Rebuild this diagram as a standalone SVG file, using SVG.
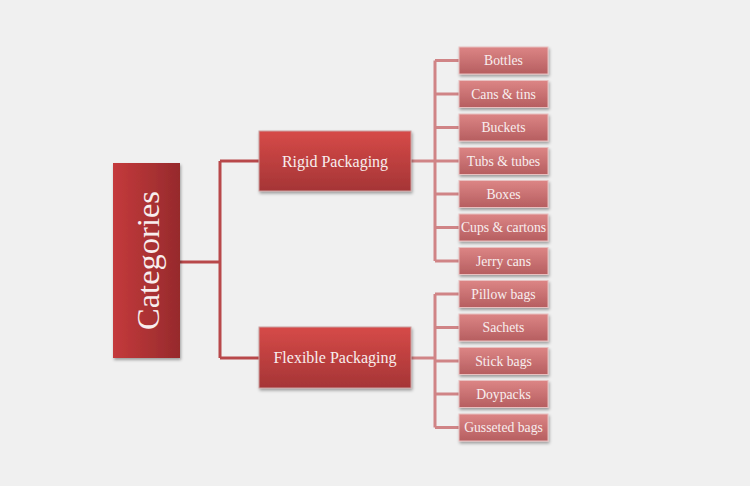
<svg xmlns="http://www.w3.org/2000/svg" width="750" height="486" viewBox="0 0 750 486">
<defs>
<linearGradient id="gCat" x1="0" y1="0" x2="1" y2="0"><stop offset="0" stop-color="#c43a3c"/><stop offset="1" stop-color="#962a2c"/></linearGradient>
<linearGradient id="gMid" x1="0" y1="0" x2="0" y2="1"><stop offset="0" stop-color="#d64a48"/><stop offset="1" stop-color="#a53536"/></linearGradient>
<linearGradient id="gLeaf" x1="0" y1="0" x2="0" y2="1"><stop offset="0" stop-color="#dc8585"/><stop offset="1" stop-color="#b65e60"/></linearGradient>
<filter id="sh" x="-20%" y="-20%" width="140%" height="150%"><feDropShadow dx="1" dy="2" stdDeviation="1.5" flood-color="#000" flood-opacity="0.35"/></filter>
</defs>
<style>
.cat{fill:url(#gCat);filter:url(#sh)}
.mid{fill:url(#gMid);stroke:#c9a0a0;stroke-width:1;filter:url(#sh)}
.leaf{fill:url(#gLeaf);stroke:#e8c0c0;stroke-width:1;filter:url(#sh)}
.t{font-family:"Liberation Serif","DejaVu Serif",serif;fill:#f8eeee;text-anchor:middle;dominant-baseline:central}
.tl{font-size:13.7px}
.tm{font-size:16px}
.main{stroke:#b8484a;stroke-width:3;fill:none}
.sub{stroke:#d08486;stroke-width:3;fill:none}
</style>
<rect width="750" height="486" fill="#f0f0f0"/>
<g id="connectors">
<path class="main" d="M180 262 H220 M220 161 V358 M220 161 H259 M220 358 H259"/>
<path class="sub" d="M411 161 H435 M435 60.5 V261 M435 60.5 H459 M435 94 H459 M435 127.5 H459 M435 161 H459 M435 194 H459 M435 227.5 H459 M435 261 H459"/>
<path class="sub" d="M411 358 H435 M435 294 V427.5 M435 294 H459 M435 327.5 H459 M435 361 H459 M435 394 H459 M435 427.5 H459"/>
</g>
<g id="categories"><rect class="cat" x="113" y="163" width="67" height="195"/><text class="t" x="148" y="260.5" font-size="32.5" transform="rotate(-90 148 260.5)">Categories</text></g>
<g id="rigid"><rect class="mid" x="259" y="131" width="152" height="60"/><text class="t tm" x="335" y="161">Rigid Packaging</text></g>
<g id="flexible"><rect class="mid" x="259" y="327" width="152" height="61"/><text class="t tm" x="335" y="357.5">Flexible Packaging</text></g>
<g id="bottles"><rect class="leaf" x="459" y="47" width="89" height="27"/><text class="t tl" x="503.5" y="60.5">Bottles</text></g>
<g id="cans"><rect class="leaf" x="459" y="80.5" width="89" height="27"/><text class="t tl" x="503.5" y="94">Cans &amp; tins</text></g>
<g id="buckets"><rect class="leaf" x="459" y="114" width="89" height="27"/><text class="t tl" x="503.5" y="127.5">Buckets</text></g>
<g id="tubs"><rect class="leaf" x="459" y="147.5" width="89" height="27"/><text class="t tl" x="503.5" y="161">Tubs &amp; tubes</text></g>
<g id="boxes"><rect class="leaf" x="459" y="180.5" width="89" height="27"/><text class="t tl" x="503.5" y="194">Boxes</text></g>
<g id="cups"><rect class="leaf" x="459" y="214" width="89" height="27"/><text class="t tl" x="503.5" y="227.5">Cups &amp; cartons</text></g>
<g id="jerry"><rect class="leaf" x="459" y="247.5" width="89" height="27"/><text class="t tl" x="503.5" y="261">Jerry cans</text></g>
<g id="pillow"><rect class="leaf" x="459" y="280.5" width="89" height="27"/><text class="t tl" x="503.5" y="294">Pillow bags</text></g>
<g id="sachets"><rect class="leaf" x="459" y="314" width="89" height="27"/><text class="t tl" x="503.5" y="327.5">Sachets</text></g>
<g id="stick"><rect class="leaf" x="459" y="347.5" width="89" height="27"/><text class="t tl" x="503.5" y="361">Stick bags</text></g>
<g id="doypacks"><rect class="leaf" x="459" y="380.5" width="89" height="27"/><text class="t tl" x="503.5" y="394">Doypacks</text></g>
<g id="gusseted"><rect class="leaf" x="459" y="414" width="89" height="27"/><text class="t tl" x="503.5" y="427.5">Gusseted bags</text></g>
</svg>
